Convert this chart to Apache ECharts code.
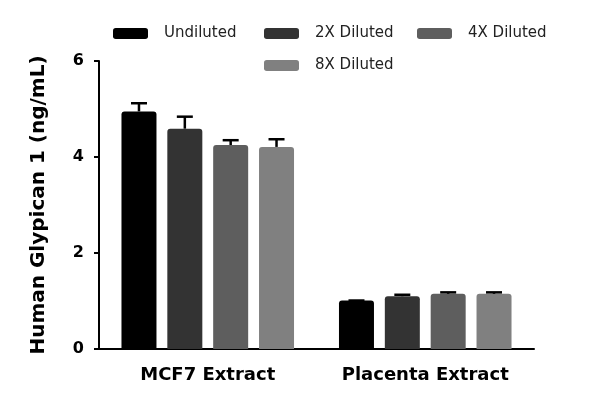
<!DOCTYPE html>
<html>
<head>
<meta charset="utf-8">
<script src="https://cdn.jsdelivr.net/npm/echarts@6/dist/echarts.min.js"></script>
<style>
  html, body { margin: 0; padding: 0; background: #fff; }
  #chart { width: 600px; height: 410px; }
</style>
</head>
<body>
<div id="chart"></div>
<script>
// data
const categories = ['MCF7 Extract', 'Placenta Extract'];
const seriesNames = ['Undiluted', '2X Diluted', '4X Diluted', '8X Diluted'];
const undiluted = [4.95, 1.01];
const diluted2x = [4.59, 1.10];
const diluted4x = [4.25, 1.15];
const diluted8x = [4.21, 1.15];
const errUndiluted = [0.17, 0.0];
const err2x = [0.25, 0.03];
const err4x = [0.10, 0.03];
const err8x = [0.16, 0.03];
const yTicks = [0, 2, 4, 6];

const colors = ['#000000', '#333333', '#5e5e5e', '#808080'];
const FONT = 'DejaVu Sans';

const values = [undiluted, diluted2x, diluted4x, diluted8x];
const errors = [errUndiluted, err2x, err4x, err8x];

const BAR_W = 35;
const BAR_GAP = 0.31;

// error bar points: [catIdx, seriesIdx, mean, err]
const errData = [];
values.forEach((vals, s) => {
  vals.forEach((v, c) => errData.push([c, s, v, errors[s][c]]));
});

const chart = echarts.init(document.getElementById('chart'), null, { renderer: 'canvas' });

const barSeries = seriesNames.map((name, i) => ({
  name,
  type: 'bar',
  data: values[i],
  barWidth: BAR_W,
  barGap: (BAR_GAP * 100) + '%',
  itemStyle: { color: colors[i], borderRadius: [3, 3, 0, 0] },
  z: 2
}));

const errorSeries = {
  type: 'custom',
  name: 'err',
  data: errData,
  z: 3,
  renderItem: (params, api) => {
    const cat = api.value(0);
    const s = api.value(1);
    const mean = api.value(2);
    const err = api.value(3);
    const pitch = BAR_W * (1 + BAR_GAP);
    const offset = (s - 1.5) * pitch;
    const top = api.coord([cat, mean]);
    const hi = api.coord([cat, mean + err]);
    const x = top[0] + offset;
    const style = { stroke: '#000', lineWidth: 2.5 };
    return {
      type: 'group',
      children: [
        { type: 'line', shape: { x1: x, y1: top[1], x2: x, y2: hi[1] }, style },
        { type: 'line', shape: { x1: x - 8, y1: hi[1], x2: x + 8, y2: hi[1] }, style }
      ]
    };
  }
};

// one legend per item so each sits where it does in the picture
const legendPos = [
  { left: 113, top: 26 },
  { left: 264, top: 26 },
  { left: 417, top: 26 },
  { left: 264, top: 58 }
];
const legends = seriesNames.map((name, i) => ({
  data: [name],
  left: legendPos[i].left,
  top: legendPos[i].top,
  padding: 0,
  itemWidth: 35,
  itemHeight: 11,
  itemGap: 0,
  selectedMode: false,
  icon: 'roundRect',
  textStyle: { fontFamily: FONT, fontSize: 15, color: '#222', padding: [0, 0, 0, 11] }
}));

const option = {
  animation: false,
  backgroundColor: '#fff',
  legend: legends,
  grid: { left: 99, right: 66, top: 61, bottom: 61 },
  xAxis: {
    type: 'category',
    data: categories,
    axisLine: { lineStyle: { color: '#000', width: 2 } },
    axisTick: { alignWithLabel: true, length: 6, lineStyle: { color: '#000', width: 2 } },
    axisLabel: { fontFamily: FONT, fontWeight: 'bold', fontSize: 18, color: '#000', margin: 17 }
  },
  yAxis: {
    type: 'value',
    min: yTicks[0],
    max: yTicks[yTicks.length - 1],
    interval: yTicks[1] - yTicks[0],
    name: 'Human Glypican 1 (ng/mL)',
    nameLocation: 'middle',
    nameGap: 50,
    nameTextStyle: { fontFamily: FONT, fontWeight: 'bold', fontSize: 20, color: '#000' },
    splitLine: { show: false },
    axisLine: { show: true, lineStyle: { color: '#000', width: 2 } },
    axisTick: { show: true, length: 5, lineStyle: { color: '#000', width: 2 } },
    axisLabel: { fontFamily: FONT, fontWeight: 'bold', fontSize: 16, color: '#000', margin: 15 }
  },
  series: [...barSeries, errorSeries]
};

chart.setOption(option);
</script>
</body>
</html>
